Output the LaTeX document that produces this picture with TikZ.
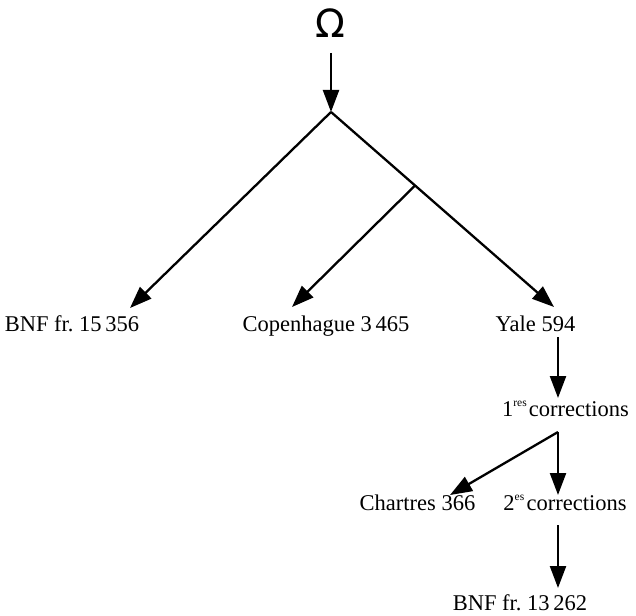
\documentclass[tikz,border=0pt]{standalone}
\usepackage{fontspec}
\setmainfont{Liberation Serif}
\newfontfamily\omegafont{DejaVu Sans}
\usetikzlibrary{arrows.meta,calc}
\newcommand{\sups}[1]{\raisebox{0.42em}{\fontsize{11.5}{11.5}\selectfont #1}\hspace{0.1em}}
\tikzset{
  lbl/.style={anchor=base, inner sep=0pt, font=\fontsize{22.5}{25}\selectfont},
  arr/.style={line width=2.3pt, -{Triangle[width=16pt,length=22pt]}},
  ln/.style={line width=2.3pt}
}
\begin{document}
\begin{tikzpicture}[x=1pt,y=-1pt]
\useasboundingbox (0,0) rectangle (636,615);
% title
\node[inner sep=0pt, font=\omegafont\fontsize{39}{39}\selectfont] (omega) at (330,23) {Ω};
% junctions and arrow ends
\coordinate (a0) at (331,53);
\coordinate (j1) at (331,112);
\coordinate (tbnf) at (130,308);
\coordinate (tyale) at (554,307);
\coordinate (j2) at ($(j1)!0.377!(tyale)$);
\coordinate (tcop) at (292,307);
\coordinate (y0) at (558,337);
\coordinate (y1) at (558,398);
\coordinate (j3) at (558,432);
\coordinate (tchar) at (450,495);
\coordinate (tsec) at (558,495);
\coordinate (s0) at (558,525);
\coordinate (s1) at (558,588);
% labels
\node[lbl] (bnf1) at (72,331) {BNF fr.\ 15\,356};
\node[lbl] (cop) at (326,331) {Copenhague 3\,465};
\node[lbl] (yale) at (535.5,331) {Yale 594};
\node[lbl] (corr1) at (565.5,416) {1\sups{res}corrections};
\node[lbl] (char) at (417.5,510) {Chartres 366};
\node[lbl] (corr2) at (565,510) {2\sups{es}corrections};
\node[lbl] (bnf2) at (520,610) {BNF fr.\ 13\,262};
% connectors
\draw[arr] (a0) -- (j1);
\draw[arr] (j1) -- (tbnf);
\draw[arr] (j1) -- (tyale);
\draw[arr] (j2) -- (tcop);
\draw[arr] (y0) -- (y1);
\draw[arr] (j3) -- (tchar);
\draw[arr] (j3) -- (tsec);
\draw[arr] (s0) -- (s1);
\end{tikzpicture}
\end{document}
